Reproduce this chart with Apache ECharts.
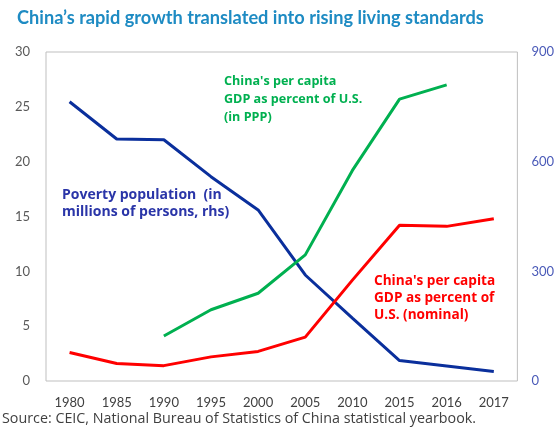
<!DOCTYPE html>
<html>
<head>
<meta charset="utf-8">
<script src="https://cdn.jsdelivr.net/npm/echarts@6/dist/echarts.min.js"></script>
<style>
  html, body { margin: 0; padding: 0; background: #fff; }
  #chart { width: 557px; height: 436px; }
</style>
</head>
<body>
<div id="chart"></div>
<script>
// categories (years)
const years = ['1980', '1985', '1990', '1995', '2000', '2005', '2010', '2015', '2016', '2017']

// China's per capita GDP as % of U.S. (PPP), left axis
const gdpPpp = [null, null, 4.1, 6.5, 8.0, 11.5, 19.2, 25.7, 27.0, null]
// China's per capita GDP as % of U.S. (nominal), left axis
const gdpNominal = [2.6, 1.6, 1.4, 2.2, 2.7, 4.0, 9.2, 14.2, 14.1, 14.8]
// Poverty population, millions (right axis)
const poverty = [764, 662, 660, 559, 468, 290, 172, 56, 41, 26]

const leftTicks = [0, 5, 10, 15, 20, 25, 30]
const rightTicks = [0, 300, 600, 900]

const font = 'Lato, "Open Sans", sans-serif'
const wideFont = '"Open Sans", sans-serif'

const chart = echarts.init(document.getElementById('chart'))

chart.setOption({
  animation: false,
  title: {
    text: 'China\u2019s rapid growth translated into rising living standards',
    left: 12,
    top: 4,
    textStyle: { color: '#1e8bc3', fontSize: 18.2, fontWeight: 'bold', fontFamily: font }
  },
  grid: {
    left: 46, right: 38, top: 52, bottom: 55,
    show: true, borderColor: '#bfbfbf', borderWidth: 1
  },
  xAxis: {
    type: 'category',
    data: years,
    boundaryGap: true,
    axisLine: { show: false },
    axisTick: { show: false },
    axisLabel: { color: '#404040', fontSize: 13, margin: 15, fontFamily: font, interval: 0 }
  },
  yAxis: [
    {
      type: 'value',
      min: leftTicks[0], max: leftTicks[leftTicks.length - 1], interval: 5,
      axisLine: { show: false },
      axisTick: { show: false },
      splitLine: { show: false },
      axisLabel: { color: '#595959', fontSize: 13, margin: 16, fontFamily: font }
    },
    {
      type: 'value',
      min: rightTicks[0], max: rightTicks[rightTicks.length - 1], interval: 300,
      position: 'right',
      axisLine: { show: false },
      axisTick: { show: false },
      splitLine: { show: false },
      axisLabel: { color: '#4a5ab8', fontSize: 13, margin: 14, fontFamily: font }
    }
  ],
  series: [
    {
      name: 'Poverty population',
      type: 'line',
      yAxisIndex: 1,
      data: poverty,
      symbol: 'none',
      lineStyle: { color: '#0a2f9c', width: 3 }
    },
    {
      name: 'GDP PPP',
      type: 'line',
      data: gdpPpp,
      symbol: 'none',
      connectNulls: false,
      lineStyle: { color: '#00b050', width: 3 }
    },
    {
      name: 'GDP nominal',
      type: 'line',
      data: gdpNominal,
      symbol: 'none',
      lineStyle: { color: '#ff0000', width: 3 }
    }
  ],
  graphic: [
    {
      type: 'text', left: 224, top: 72,
      style: {
        text: "China's per capita\nGDP as percent of U.S.\n(in PPP)",
        fill: '#00b050', font: 'bold 12.6px ' + wideFont, lineHeight: 18
      }
    },
    {
      type: 'text', left: 62, top: 187,
      style: {
        text: 'Poverty population  (in\nmillions of persons, rhs)',
        fill: '#2a35a8', font: 'bold 14px ' + wideFont, lineHeight: 17
      }
    },
    {
      type: 'text', left: 374, top: 273,
      style: {
        text: "China's per capita\nGDP as percent of\nU.S. (nominal)",
        fill: '#ff0000', font: 'bold 13.6px ' + wideFont, lineHeight: 17
      }
    },
    {
      type: 'text', left: 2, top: 412,
      style: {
        text: 'Source: CEIC, National Bureau of Statistics of China statistical yearbook.',
        fill: '#404040', font: '14.3px ' + wideFont
      }
    }
  ]
})
</script>
</body>
</html>
